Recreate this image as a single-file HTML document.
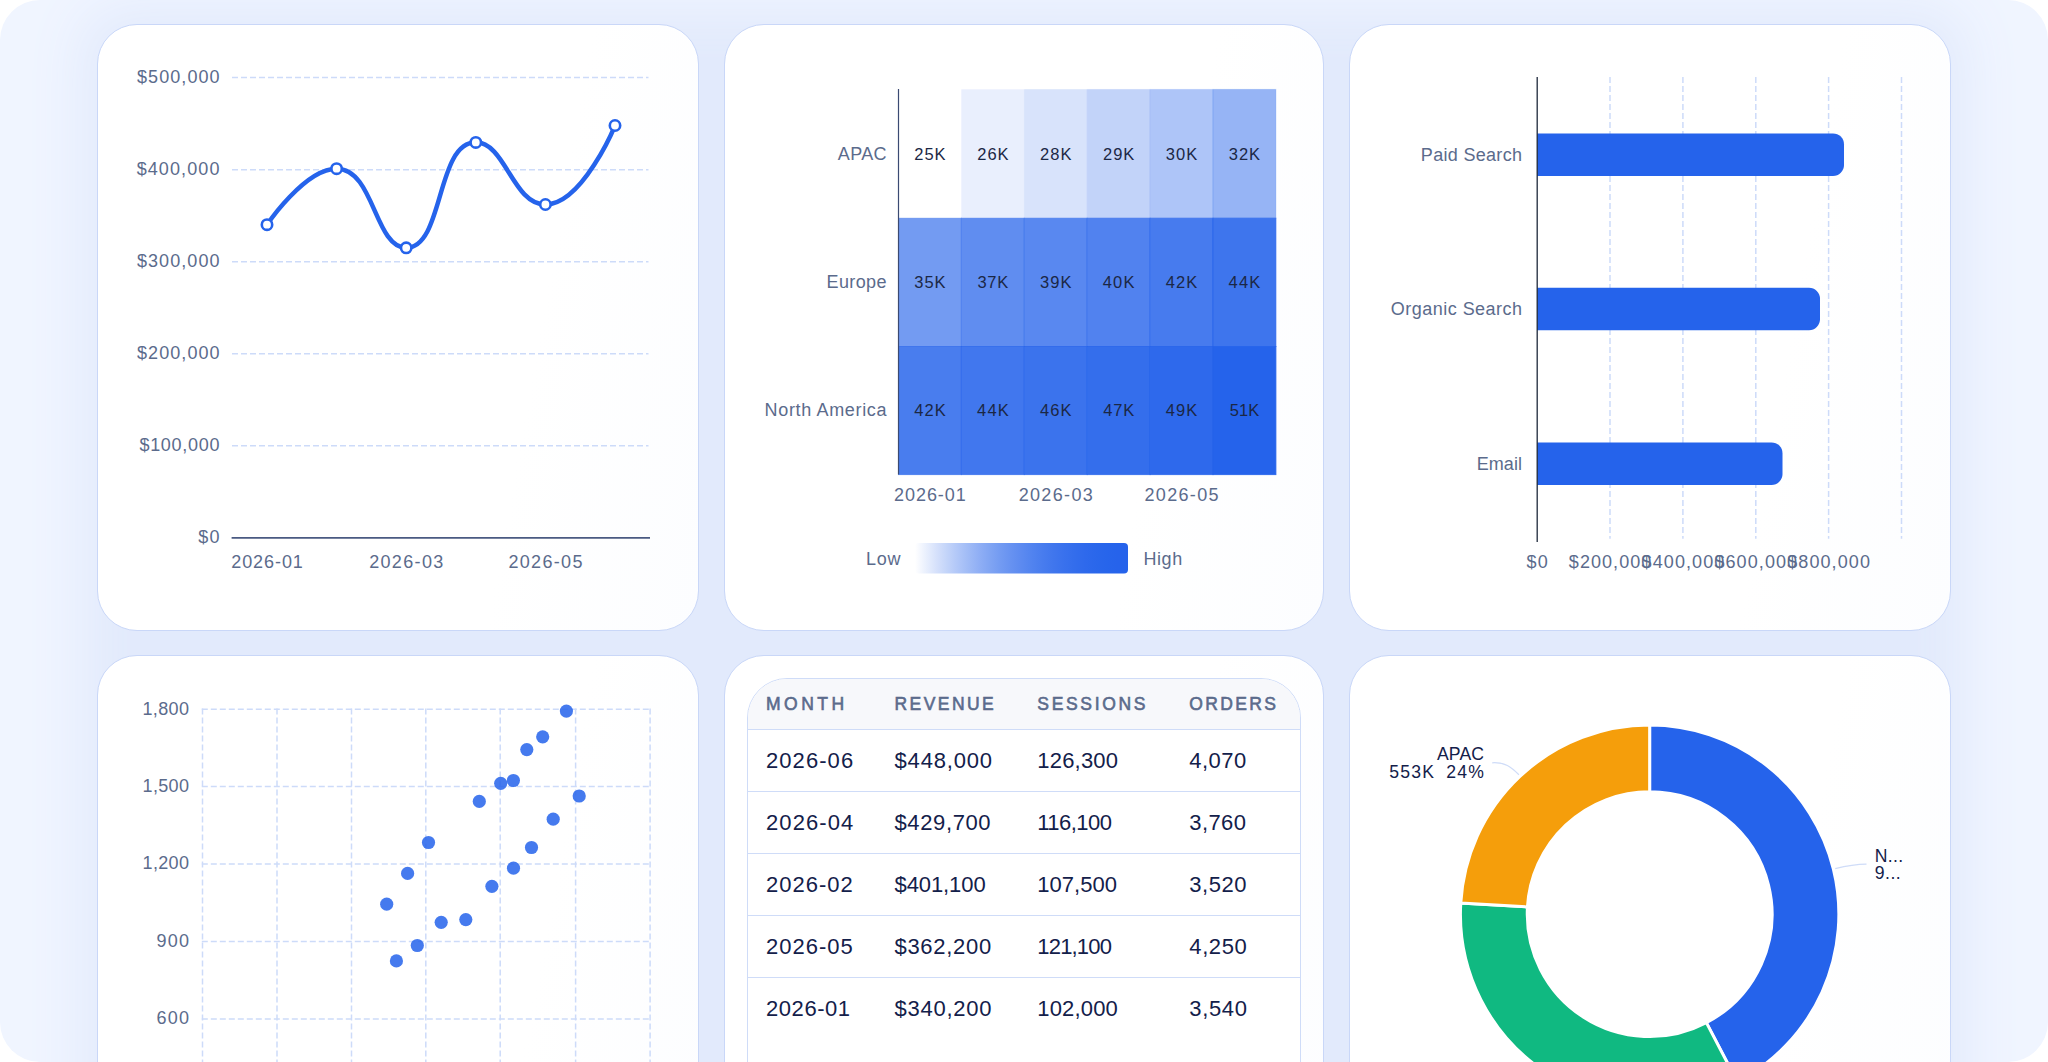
<!DOCTYPE html>
<html lang="en"><head><meta charset="utf-8"><title>Analytics dashboard</title>
<style>
*{box-sizing:border-box;margin:0;padding:0}
html,body{width:2048px;height:1062px;overflow:hidden;background:#fff}
body{font-family:"Liberation Sans",sans-serif;position:relative}
.page{position:absolute;left:0;top:0;width:2048px;height:1062px;border-radius:40px;overflow:hidden;background:#f0f5ff}
.backdrop{position:absolute;left:177px;top:104px;width:1694px;height:1200px;border-radius:10px;background:#e2eafc;box-shadow:0 0 56px 95px #e2eafc}
.card{position:absolute;background:linear-gradient(100deg,#fff 70%,#fcfdff);border:1px solid #c9d7f8;border-radius:40px}
.card svg{position:absolute;left:-1px;top:-1px;overflow:visible}
svg text{font-family:"Liberation Sans",sans-serif}
.ax{font-size:18px;fill:#5b6b8c}
.cell{font-size:16.5px;fill:#1b2745}
.pie{font-size:17.6px;fill:#13204a}
.grid{stroke:#cddbf9;stroke-width:1.5;stroke-dasharray:6 3;fill:none}
.tbl{position:absolute;left:22px;top:22px;width:554px;height:620px;border:1px solid #cfdcf8;border-radius:40px 40px 0 0;overflow:hidden;background:#fff}
.tbl table{border-collapse:collapse;width:100%;table-layout:fixed}
.tbl th{height:50.1px;background:#f7f8fb;color:#5b6b8c;font-size:17.5px;font-weight:400;-webkit-text-stroke:.6px #5b6b8c;text-align:left;text-transform:uppercase;border-bottom:1px solid #cfdcf8;padding:1px 0 0;white-space:nowrap}
.tbl td{height:62.2px;color:#13204a;font-size:22px;border-bottom:1px solid #cfdcf8;padding:1px 0 0;white-space:nowrap}
.tbl tr:last-child td{border-bottom-color:transparent}
</style></head><body><div class="page"><div class="backdrop"></div>

<div class="card" style="left:97px;top:24px;width:602px;height:607px">
<svg viewBox="97 24 602 607" width="602" height="607"><line class="grid" x1="232" x2="648.5" y1="77.6" y2="77.6"/><text class="ax" text-anchor="end" x="220.6" y="83.0" letter-spacing="1.06">$500,000</text><line class="grid" x1="232" x2="648.5" y1="169.7" y2="169.7"/><text class="ax" text-anchor="end" x="220.6" y="175.1" letter-spacing="1.11">$400,000</text><line class="grid" x1="232" x2="648.5" y1="261.8" y2="261.8"/><text class="ax" text-anchor="end" x="220.6" y="267.1" letter-spacing="1.08">$300,000</text><line class="grid" x1="232" x2="648.5" y1="353.8" y2="353.8"/><text class="ax" text-anchor="end" x="220.6" y="359.2" letter-spacing="1.06">$200,000</text><line class="grid" x1="232" x2="648.5" y1="445.8" y2="445.8"/><text class="ax" text-anchor="end" x="220.2" y="451.2" letter-spacing="0.71">$100,000</text><text class="ax" text-anchor="end" x="220.8" y="543.3" letter-spacing="1.28">$0</text><line x1="231.6" x2="650" y1="537.9" y2="537.9" stroke="#4a5a82" stroke-width="1.8"/><path d="M267.00,224.75C267.00,224.75,304.65,168.69,336.60,168.69C374.25,168.69,374.55,247.76,406.20,247.76C444.15,247.76,435.77,142.36,475.80,142.36C505.37,142.36,512.70,204.49,545.40,204.49C582.30,204.49,615.00,125.52,615.00,125.52" fill="none" stroke="#2563eb" stroke-width="4.5" stroke-linecap="round" stroke-linejoin="round"/><circle cx="267.0" cy="224.7" r="5.2" fill="#fff" stroke="#2563eb" stroke-width="2.6"/><circle cx="336.6" cy="168.7" r="5.2" fill="#fff" stroke="#2563eb" stroke-width="2.6"/><circle cx="406.2" cy="247.8" r="5.2" fill="#fff" stroke="#2563eb" stroke-width="2.6"/><circle cx="475.8" cy="142.4" r="5.2" fill="#fff" stroke="#2563eb" stroke-width="2.6"/><circle cx="545.4" cy="204.5" r="5.2" fill="#fff" stroke="#2563eb" stroke-width="2.6"/><circle cx="615.0" cy="125.5" r="5.2" fill="#fff" stroke="#2563eb" stroke-width="2.6"/><text class="ax" text-anchor="middle" x="267.5" y="568.3" letter-spacing="0.93">2026-01</text><text class="ax" text-anchor="middle" x="406.9" y="568.3" letter-spacing="1.35">2026-03</text><text class="ax" text-anchor="middle" x="546.1" y="568.3" letter-spacing="1.32">2026-05</text></svg>
</div>
<div class="card" style="left:724px;top:24px;width:600px;height:607px">
<svg viewBox="724 24 600 607" width="600" height="607"><rect x="898.5" y="89.4" width="62.9" height="128.8" fill="#ffffff" stroke="#2563eb" stroke-opacity="0.00" stroke-width="1"/><text class="cell" text-anchor="middle" x="930.4" y="159.7" letter-spacing="0.92">25K</text><rect x="961.4" y="89.4" width="62.9" height="128.8" fill="#e9effd" stroke="#2563eb" stroke-opacity="0.01" stroke-width="1"/><text class="cell" text-anchor="middle" x="993.4" y="159.7" letter-spacing="1.01">26K</text><rect x="1024.3" y="89.4" width="62.9" height="128.8" fill="#d8e3fb" stroke="#2563eb" stroke-opacity="0.03" stroke-width="1"/><text class="cell" text-anchor="middle" x="1056.3" y="159.7" letter-spacing="1.01">28K</text><rect x="1087.2" y="89.4" width="62.9" height="128.8" fill="#c2d3f9" stroke="#2563eb" stroke-opacity="0.07" stroke-width="1"/><text class="cell" text-anchor="middle" x="1119.2" y="159.7" letter-spacing="1.01">29K</text><rect x="1150.1" y="89.4" width="62.9" height="128.8" fill="#aec5f8" stroke="#2563eb" stroke-opacity="0.12" stroke-width="1"/><text class="cell" text-anchor="middle" x="1182.1" y="159.7" letter-spacing="1.04">30K</text><rect x="1213.0" y="89.4" width="62.9" height="128.8" fill="#96b4f5" stroke="#2563eb" stroke-opacity="0.20" stroke-width="1"/><text class="cell" text-anchor="middle" x="1244.9" y="159.7" letter-spacing="0.98">32K</text><text class="ax" text-anchor="end" x="886.8" y="159.5" letter-spacing="0.32">APAC</text><rect x="898.5" y="218.2" width="62.9" height="128.3" fill="#739bf2" stroke="#2563eb" stroke-opacity="0.35" stroke-width="1"/><text class="cell" text-anchor="middle" x="930.4" y="288.2" letter-spacing="0.98">35K</text><rect x="961.4" y="218.2" width="62.9" height="128.3" fill="#608df0" stroke="#2563eb" stroke-opacity="0.45" stroke-width="1"/><text class="cell" text-anchor="middle" x="993.2" y="288.2" letter-spacing="0.73">37K</text><rect x="1024.3" y="218.2" width="62.9" height="128.3" fill="#5988f0" stroke="#2563eb" stroke-opacity="0.49" stroke-width="1"/><text class="cell" text-anchor="middle" x="1056.3" y="288.2" letter-spacing="1.07">39K</text><rect x="1087.2" y="218.2" width="62.9" height="128.3" fill="#5182ef" stroke="#2563eb" stroke-opacity="0.54" stroke-width="1"/><text class="cell" text-anchor="middle" x="1119.2" y="288.2" letter-spacing="1.12">40K</text><rect x="1150.1" y="218.2" width="62.9" height="128.3" fill="#477bee" stroke="#2563eb" stroke-opacity="0.61" stroke-width="1"/><text class="cell" text-anchor="middle" x="1182.1" y="288.2" letter-spacing="1.07">42K</text><rect x="1213.0" y="218.2" width="62.9" height="128.3" fill="#3e75ed" stroke="#2563eb" stroke-opacity="0.67" stroke-width="1"/><text class="cell" text-anchor="middle" x="1245.1" y="288.2" letter-spacing="1.21">44K</text><text class="ax" text-anchor="end" x="886.9" y="288.1" letter-spacing="0.38">Europe</text><rect x="898.5" y="346.5" width="62.9" height="128.1" fill="#497dee" stroke="#2563eb" stroke-opacity="0.59" stroke-width="1"/><text class="cell" text-anchor="middle" x="930.5" y="416.4" letter-spacing="1.07">42K</text><rect x="961.4" y="346.5" width="62.9" height="128.1" fill="#4177ee" stroke="#2563eb" stroke-opacity="0.64" stroke-width="1"/><text class="cell" text-anchor="middle" x="993.5" y="416.4" letter-spacing="1.21">44K</text><rect x="1024.3" y="346.5" width="62.9" height="128.1" fill="#3b73ed" stroke="#2563eb" stroke-opacity="0.69" stroke-width="1"/><text class="cell" text-anchor="middle" x="1056.3" y="416.4" letter-spacing="1.15">46K</text><rect x="1087.2" y="346.5" width="62.9" height="128.1" fill="#346eec" stroke="#2563eb" stroke-opacity="0.74" stroke-width="1"/><text class="cell" text-anchor="middle" x="1119.1" y="416.4" letter-spacing="0.81">47K</text><rect x="1150.1" y="346.5" width="62.9" height="128.1" fill="#2e69ec" stroke="#2563eb" stroke-opacity="0.78" stroke-width="1"/><text class="cell" text-anchor="middle" x="1182.1" y="416.4" letter-spacing="1.15">49K</text><rect x="1213.0" y="346.5" width="62.9" height="128.1" fill="#2563eb" stroke="#2563eb" stroke-opacity="0.85" stroke-width="1"/><text class="cell" text-anchor="middle" x="1244.5" y="416.4" letter-spacing="0.05">51K</text><text class="ax" text-anchor="end" x="887.2" y="416.2" letter-spacing="0.66">North America</text><line x1="898.5" x2="898.5" y1="89" y2="474.5" stroke="#3b4a72" stroke-width="1.2"/><text class="ax" text-anchor="middle" x="930.4" y="501.0" letter-spacing="0.93">2026-01</text><text class="ax" text-anchor="middle" x="1056.4" y="501.0" letter-spacing="1.35">2026-03</text><text class="ax" text-anchor="middle" x="1182.2" y="501.0" letter-spacing="1.32">2026-05</text><defs><linearGradient id="lg" x1="0" x2="1" y1="0" y2="0"><stop offset="0.00" stop-color="#ffffff"/><stop offset="0.05" stop-color="#eaf0fd"/><stop offset="0.10" stop-color="#d6e1fb"/><stop offset="0.15" stop-color="#c3d4f9"/><stop offset="0.20" stop-color="#b1c7f8"/><stop offset="0.25" stop-color="#a0bbf6"/><stop offset="0.30" stop-color="#90aff5"/><stop offset="0.35" stop-color="#81a5f3"/><stop offset="0.40" stop-color="#739bf2"/><stop offset="0.45" stop-color="#6792f1"/><stop offset="0.50" stop-color="#5c8af0"/><stop offset="0.55" stop-color="#5183ef"/><stop offset="0.60" stop-color="#487cee"/><stop offset="0.65" stop-color="#4076ed"/><stop offset="0.70" stop-color="#3971ed"/><stop offset="0.75" stop-color="#336dec"/><stop offset="0.80" stop-color="#2e69ec"/><stop offset="0.85" stop-color="#2a67eb"/><stop offset="0.90" stop-color="#2765eb"/><stop offset="0.95" stop-color="#2663eb"/><stop offset="1.00" stop-color="#2563eb"/></linearGradient></defs><rect x="915" y="543" width="213" height="30.5" rx="4" fill="url(#lg)"/><text class="ax" text-anchor="end" x="901.3" y="564.5" letter-spacing="0.75">Low</text><text class="ax" x="1143.5" y="564.5" letter-spacing="0.56">High</text></svg>
</div>
<div class="card" style="left:1349px;top:24px;width:602px;height:607px">
<svg viewBox="1349 24 602 607" width="602" height="607"><line class="grid" x1="1610.0" x2="1610.0" y1="77" y2="538.8"/><line class="grid" x1="1682.9" x2="1682.9" y1="77" y2="538.8"/><line class="grid" x1="1755.8" x2="1755.8" y1="77" y2="538.8"/><line class="grid" x1="1828.6" x2="1828.6" y1="77" y2="538.8"/><line class="grid" x1="1901.5" x2="1901.5" y1="77" y2="538.8"/><path d="M1537.2,133.4H1833.0a11,11 0 0 1 11,11V164.9a11,11 0 0 1 -11,11H1537.2Z" fill="#2563eb"/><text class="ax" text-anchor="end" x="1522.3" y="160.7" letter-spacing="0.31">Paid Search</text><path d="M1537.2,287.8H1809.0a11,11 0 0 1 11,11V319.2a11,11 0 0 1 -11,11H1537.2Z" fill="#2563eb"/><text class="ax" text-anchor="end" x="1522.5" y="315.0" letter-spacing="0.47">Organic Search</text><path d="M1537.2,442.4H1771.5a11,11 0 0 1 11,11V473.9a11,11 0 0 1 -11,11H1537.2Z" fill="#2563eb"/><text class="ax" text-anchor="end" x="1522.1" y="469.7" letter-spacing="0.07">Email</text><line x1="1537.2" x2="1537.2" y1="77" y2="542" stroke="#1e293b" stroke-width="1.3"/><text class="ax" text-anchor="middle" x="1537.8" y="568.3" letter-spacing="1.28">$0</text><text class="ax" text-anchor="middle" x="1610.6" y="568.3" letter-spacing="1.06">$200,000</text><text class="ax" text-anchor="middle" x="1683.5" y="568.3" letter-spacing="1.11">$400,000</text><text class="ax" text-anchor="middle" x="1756.3" y="568.3" letter-spacing="1.09">$600,000</text><text class="ax" text-anchor="middle" x="1829.1" y="568.3" letter-spacing="1.09">$800,000</text></svg>
</div>
<div class="card" style="left:97px;top:655px;width:602px;height:607px">
<svg viewBox="97 655 602 607" width="602" height="607"><line class="grid" x1="202.5" x2="202.5" y1="708.4" y2="1100"/><line class="grid" x1="277.0" x2="277.0" y1="708.4" y2="1100"/><line class="grid" x1="351.5" x2="351.5" y1="708.4" y2="1100"/><line class="grid" x1="425.8" x2="425.8" y1="708.4" y2="1100"/><line class="grid" x1="500.2" x2="500.2" y1="708.4" y2="1100"/><line class="grid" x1="575.6" x2="575.6" y1="708.4" y2="1100"/><line class="grid" x1="650.1" x2="650.1" y1="708.4" y2="1100"/><line class="grid" x1="201.8" x2="650.8" y1="709.15" y2="709.15"/><text class="ax" text-anchor="end" x="189.4" y="714.7" letter-spacing="0.39">1,800</text><line class="grid" x1="201.8" x2="650.8" y1="786.60" y2="786.60"/><text class="ax" text-anchor="end" x="189.3" y="792.0" letter-spacing="0.33">1,500</text><line class="grid" x1="201.8" x2="650.8" y1="864.05" y2="864.05"/><text class="ax" text-anchor="end" x="189.3" y="869.2" letter-spacing="0.33">1,200</text><line class="grid" x1="201.8" x2="650.8" y1="941.50" y2="941.50"/><text class="ax" text-anchor="end" x="190.3" y="946.5" letter-spacing="1.27">900</text><line class="grid" x1="201.8" x2="650.8" y1="1018.95" y2="1018.95"/><text class="ax" text-anchor="end" x="190.3" y="1023.8" letter-spacing="1.27">600</text><line class="grid" x1="201.8" x2="650.8" y1="1096.40" y2="1096.40"/><text class="ax" text-anchor="end" x="190.2" y="1101.0" letter-spacing="1.24">300</text><circle cx="566.4" cy="711.1" r="6.6" fill="#2563eb" fill-opacity=".85"/><circle cx="542.7" cy="736.8" r="6.6" fill="#2563eb" fill-opacity=".85"/><circle cx="526.8" cy="749.6" r="6.6" fill="#2563eb" fill-opacity=".85"/><circle cx="513.4" cy="780.5" r="6.6" fill="#2563eb" fill-opacity=".85"/><circle cx="500.7" cy="783.3" r="6.6" fill="#2563eb" fill-opacity=".85"/><circle cx="479.3" cy="801.4" r="6.6" fill="#2563eb" fill-opacity=".85"/><circle cx="579.2" cy="796.0" r="6.6" fill="#2563eb" fill-opacity=".85"/><circle cx="553.2" cy="819.2" r="6.6" fill="#2563eb" fill-opacity=".85"/><circle cx="428.5" cy="842.5" r="6.6" fill="#2563eb" fill-opacity=".85"/><circle cx="531.5" cy="847.5" r="6.6" fill="#2563eb" fill-opacity=".85"/><circle cx="513.5" cy="868.2" r="6.6" fill="#2563eb" fill-opacity=".85"/><circle cx="407.6" cy="873.4" r="6.6" fill="#2563eb" fill-opacity=".85"/><circle cx="491.9" cy="886.3" r="6.6" fill="#2563eb" fill-opacity=".85"/><circle cx="386.7" cy="904.2" r="6.6" fill="#2563eb" fill-opacity=".85"/><circle cx="465.8" cy="919.6" r="6.6" fill="#2563eb" fill-opacity=".85"/><circle cx="441.2" cy="922.3" r="6.6" fill="#2563eb" fill-opacity=".85"/><circle cx="417.3" cy="945.5" r="6.6" fill="#2563eb" fill-opacity=".85"/><circle cx="396.4" cy="960.9" r="6.6" fill="#2563eb" fill-opacity=".85"/></svg>
</div>
<div class="card" style="left:724px;top:655px;width:600px;height:607px">
<div class="tbl"><table><colgroup><col style="width:146.5px"><col style="width:142.8px"><col style="width:152px"><col></colgroup><thead><tr><th style="padding-left:18px"><span style="letter-spacing:3.50px">MONTH</span></th><th><span style="letter-spacing:2.44px">REVENUE</span></th><th><span style="letter-spacing:2.67px">SESSIONS</span></th><th><span style="letter-spacing:2.33px">ORDERS</span></th></tr></thead><tbody><tr><td style="padding-left:18px"><span style="letter-spacing:1.07px">2026-06</span></td><td><span style="letter-spacing:0.83px">$448,000</span></td><td><span style="letter-spacing:0.19px">126,300</span></td><td><span style="letter-spacing:0.46px">4,070</span></td></tr><tr><td style="padding-left:18px"><span style="letter-spacing:1.10px">2026-04</span></td><td><span style="letter-spacing:0.62px">$429,700</span></td><td><span style="letter-spacing:-0.54px">116,100</span></td><td><span style="letter-spacing:0.41px">3,760</span></td></tr><tr><td style="padding-left:18px"><span style="letter-spacing:1.02px">2026-02</span></td><td><span style="letter-spacing:-0.09px">$401,100</span></td><td><span style="letter-spacing:0.01px">107,500</span></td><td><span style="letter-spacing:0.54px">3,520</span></td></tr><tr><td style="padding-left:18px"><span style="letter-spacing:1.02px">2026-05</span></td><td><span style="letter-spacing:0.70px">$362,200</span></td><td><span style="letter-spacing:-0.82px">121,100</span></td><td><span style="letter-spacing:0.60px">4,250</span></td></tr><tr><td style="padding-left:18px"><span style="letter-spacing:0.56px">2026-01</span></td><td><span style="letter-spacing:0.75px">$340,200</span></td><td><span style="letter-spacing:0.17px">102,000</span></td><td><span style="letter-spacing:0.64px">3,540</span></td></tr></tbody></table></div>
</div>
<div class="card" style="left:1349px;top:655px;width:602px;height:607px">
<svg viewBox="1349 655 602 607" width="602" height="607"><path d="M1649.65,725.00A189.2,189.2 0 0 1 1737.31,1081.87L1706.36,1022.67A122.4,122.4 0 0 0 1649.65,791.80Z" fill="#2563eb" stroke="#fff" stroke-width="3" stroke-linejoin="miter"/><path d="M1737.31,1081.87A189.2,189.2 0 0 1 1460.78,902.98L1527.47,906.94A122.4,122.4 0 0 0 1706.36,1022.67Z" fill="#10b981" stroke="#fff" stroke-width="3" stroke-linejoin="miter"/><path d="M1460.78,902.98A189.2,189.2 0 0 1 1649.65,725.00L1649.65,791.80A122.4,122.4 0 0 0 1527.47,906.94Z" fill="#f59e0b" stroke="#fff" stroke-width="3" stroke-linejoin="miter"/><path d="M1492.2,762.8C1505,762 1511,767 1518.9,774.7" fill="none" stroke="#cfdcf8" stroke-width="1.2"/><path d="M1835.2,868.6C1846,866 1856,864.3 1866.5,864.2" fill="none" stroke="#cfdcf8" stroke-width="1.2"/><text class="pie" text-anchor="end" x="1484.2" y="759.9" letter-spacing="0.17">APAC</text><text class="pie" text-anchor="end" x="1435.1" y="778.3" letter-spacing="1.20">553K</text><text class="pie" text-anchor="end" x="1485.2" y="778.3" letter-spacing="1.22">24%</text><text class="pie" x="1874.8" y="861.5" letter-spacing="0.31">N...</text><text class="pie" x="1874.8" y="879.4" letter-spacing="0.49">9...</text></svg>
</div>
</div></body></html>
